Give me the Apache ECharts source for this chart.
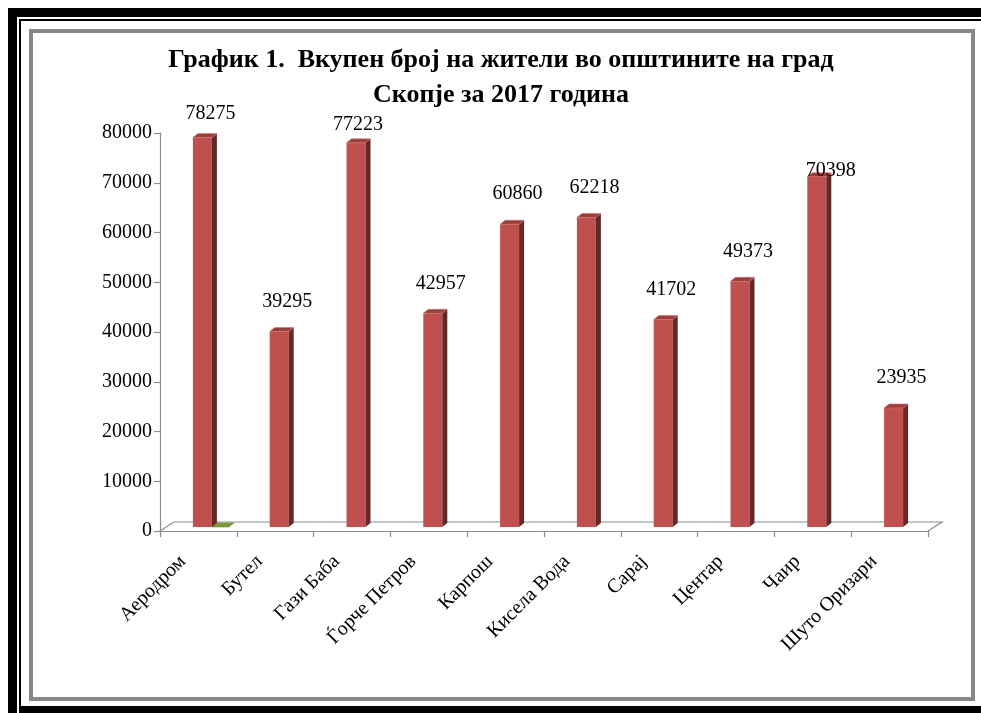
<!DOCTYPE html>
<html>
<head>
<meta charset="utf-8">
<script src="https://cdn.jsdelivr.net/npm/echarts@6/dist/echarts.min.js"></script>
<style>
  html, body { margin: 0; padding: 0; background: #fff; }
  #chart { width: 981px; height: 713px; }
</style>
</head>
<body>
<div id="chart"></div>
<script>
// Municipalities of the City of Skopje and their population, 2017
const municipalities = ['Аеродром', 'Бутел', 'Гази Баба', 'Ѓорче Петров', 'Карпош',
  'Кисела Вода', 'Сарај', 'Центар', 'Чаир', 'Шуто Оризари'];
const population = [78275, 39295, 77223, 42957, 60860, 62218, 41702, 49373, 70398, 23935];
// second (empty) series of the workbook: only a zero-height bar at the first category
const secondSeries = [0, null, null, null, null, null, null, null, null, null];
const yTicks = { min: 0, max: 80000, interval: 10000 };

// hand-placed data labels: gap above the bar top and sideways nudge, in px
const labelLift = [24, 30, 18, 30, 30, 30, 30, 30, 6, 30];
const labelNudge = [8, 8, 2, 8, 8, 8, 8, 8, 14, 8];

const SERIF = '"Liberation Serif", "Times New Roman", "DejaVu Serif", serif';
const RED = { front: '#C0504D', side: '#632A29', top: '#9C3E3B' };
const GREEN = { top: '#7E9C3E', edge: '#6B8733' };

// geometry of the pseudo-3D bars
const BAR_W = 19;      // front face width
const DEPTH_X = 5;     // side face horizontal depth
const DEPTH_Y = 4;     // side face vertical depth
const SHIFT_X = 4;     // bar offset from category centre
const SHIFT_Y = 4;     // bar sits slightly back on the floor

function renderBar(params, api) {
  const i = api.value(0);
  const v = api.value(1);
  const base = api.coord([i, 0]);
  const top = api.coord([i, v]);
  const cx = base[0] + SHIFT_X;
  const x0 = cx - BAR_W / 2, x1 = cx + BAR_W / 2;
  const yb = base[1] - SHIFT_Y, yt = top[1] - SHIFT_Y;
  return {
    type: 'group',
    children: [
      { type: 'rect', shape: { x: x0, y: yt, width: BAR_W, height: yb - yt },
        style: { fill: RED.front } },
      { type: 'polygon', shape: { points: [[x1, yt], [x1 + DEPTH_X, yt - DEPTH_Y], [x1 + DEPTH_X, yb - DEPTH_Y], [x1, yb]] },
        style: { fill: RED.side } },
      { type: 'polygon', shape: { points: [[x0, yt], [x0 + DEPTH_X, yt - DEPTH_Y], [x1 + DEPTH_X, yt - DEPTH_Y], [x1, yt]] },
        style: { fill: RED.top, stroke: '#C97573', lineWidth: 0.6 } },
      { type: 'text', style: { text: String(v), x: cx + labelNudge[i], y: yt - labelLift[i],
          fill: '#000', font: '20px ' + SERIF, align: 'center', verticalAlign: 'middle' } }
    ]
  };
}

function renderFlat(params, api) {
  const i = api.value(0);
  const v = api.value(1);
  const base = api.coord([i, 0]);
  const top = api.coord([i, v]);
  const x0 = base[0] + SHIFT_X + BAR_W / 2;
  const x1 = x0 + BAR_W - 2;
  const yt = top[1] - SHIFT_Y;
  return {
    type: 'polygon',
    shape: { points: [[x0, yt], [x0 + DEPTH_X, yt - DEPTH_Y], [x1 + DEPTH_X, yt - DEPTH_Y], [x1, yt]] },
    style: { fill: GREEN.top, stroke: GREEN.edge, lineWidth: 0.6 }
  };
}

// the floor of the plot: a thin parallelogram along the category axis
function renderFloor(params, api) {
  const n = municipalities.length;
  const first = api.coord([0, 0]);
  const last = api.coord([n - 1, 0]);
  const band = api.size([1, 0])[0];
  const xl = first[0] - band / 2, xr = last[0] + band / 2, y = first[1];
  const dx = 14, dy = 9;
  return {
    type: 'polyline',
    shape: { points: [[xl, y], [xl + dx, y - dy], [xr + dx, y - dy], [xr, y]] },
    style: { stroke: '#8C8C8C', lineWidth: 1.2, fill: null }
  };
}

const chart = echarts.init(document.getElementById('chart'), null, { renderer: 'canvas' });
chart.setOption({
  backgroundColor: '#fff',
  animation: false,
  title: {
    text: 'График 1.  Вкупен број на жители во општините на град\nСкопје за 2017 година',
    left: 496, top: 38, textAlign: 'center',
    textStyle: { fontFamily: SERIF, fontWeight: 'bold', fontSize: 26, lineHeight: 35, color: '#000' }
  },
  graphic: [
    { type: 'rect', z: -10, shape: { x: 8, y: 8, width: 9, height: 705 }, style: { fill: '#000' } },
    { type: 'rect', z: -10, shape: { x: 8, y: 8, width: 973, height: 9 }, style: { fill: '#000' } },
    { type: 'rect', z: -10, shape: { x: 19, y: 19, width: 2, height: 694 }, style: { fill: '#000' } },
    { type: 'rect', z: -10, shape: { x: 19, y: 19, width: 962, height: 2 }, style: { fill: '#000' } },
    { type: 'rect', z: -10, shape: { x: 19, y: 706, width: 962, height: 7 }, style: { fill: '#000' } },
    { type: 'rect', z: -10, shape: { x: 31, y: 31, width: 942, height: 668 },
      style: { fill: null, stroke: '#878787', lineWidth: 4 } }
  ],
  grid: { left: 160, right: 53, top: 133, bottom: 182 },
  xAxis: {
    type: 'category',
    data: municipalities,
    axisLine: { lineStyle: { color: '#8C8C8C', width: 1.2 } },
    axisTick: { show: true, length: 6, lineStyle: { color: '#8C8C8C', width: 1.2 } },
    axisLabel: { rotate: 45, margin: 12, padding: [0, 22, 0, 0], fontFamily: SERIF, fontSize: 20,
      color: '#000', interval: 0 },
    splitLine: { show: false }
  },
  yAxis: {
    type: 'value',
    min: yTicks.min, max: yTicks.max, interval: yTicks.interval,
    axisLine: { show: true, lineStyle: { color: '#8C8C8C', width: 1.2 } },
    axisTick: { show: true, length: 6, lineStyle: { color: '#8C8C8C', width: 1.2 } },
    axisLabel: { margin: 8, fontFamily: SERIF, fontSize: 20, color: '#000',
      formatter: (v) => String(v) },
    splitLine: { show: false }
  },
  series: [
    { type: 'custom', name: 'floor', renderItem: renderFloor, data: [[0, 0]], z: 1, silent: true },
    { type: 'custom', name: 'Население', renderItem: renderBar,
      data: population.map((v, i) => [i, v]), z: 3, encode: { x: 0, y: 1 } },
    { type: 'custom', name: 'Серија 2', renderItem: renderFlat,
      data: secondSeries.map((v, i) => v === null ? null : [i, v]).filter(d => d !== null), z: 2,
      encode: { x: 0, y: 1 } }
  ]
});
</script>
</body>
</html>
